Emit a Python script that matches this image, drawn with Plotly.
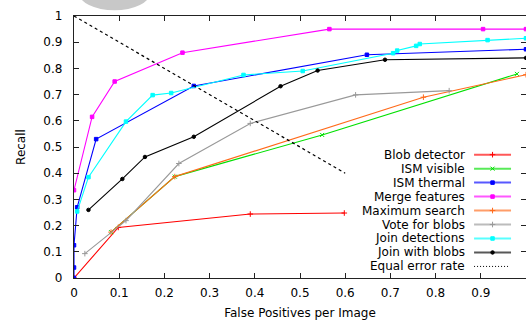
import plotly.graph_objects as go

# ---- data (False Positives per Image vs Recall) ----
blob_x = [0, 0.098, 0.39, 0.598]
blob_y = [0, 0.193, 0.244, 0.248]

vis_x = [0.082, 0.223, 0.549, 0.98]
vis_y = [0.175, 0.387, 0.546, 0.779]

therm_x = [0, 0, 0, 0.007, 0.049, 0.265, 0.648, 1.0]
therm_y = [0, 0.04, 0.125, 0.27, 0.53, 0.733, 0.852, 0.873]

merge_x = [0, 0.04, 0.09, 0.24, 0.565, 0.905, 1.0]
merge_y = [0.335, 0.615, 0.75, 0.86, 0.95, 0.95, 0.95]

maxs_x = [0.082, 0.223, 0.773, 1.0]
maxs_y = [0.175, 0.387, 0.69, 0.776]

vote_x = [0.024, 0.115, 0.232, 0.39, 0.623, 0.83]
vote_y = [0.093, 0.219, 0.437, 0.59, 0.699, 0.715]

jdet_x = [0.007, 0.032, 0.115, 0.174, 0.215, 0.375, 0.506, 0.706, 0.715, 0.757, 0.765, 0.915, 1.0]
jdet_y = [0.254, 0.385, 0.597, 0.698, 0.706, 0.775, 0.79, 0.858, 0.868, 0.886, 0.893, 0.908, 0.915]

jblob_x = [0.032, 0.107, 0.157, 0.265, 0.457, 0.539, 0.688, 1.0]
jblob_y = [0.26, 0.378, 0.462, 0.539, 0.732, 0.792, 0.833, 0.84]

eer_x = [0, 0.6]
eer_y = [1, 0.4]

names = ["Blob detector", "ISM visible", "ISM thermal", "Merge features",
         "Maximum search", "Vote for blobs", "Join detections", "Join with blobs",
         "Equal error rate"]
x_ticks = [0, 0.1, 0.2, 0.3, 0.4, 0.5, 0.6, 0.7, 0.8, 0.9, 1]
y_ticks = [0, 0.1, 0.2, 0.3, 0.4, 0.5, 0.6, 0.7, 0.8, 0.9, 1]

series = [
    (blob_x, blob_y, "#ff0000", "cross-thin", 4),
    (vis_x, vis_y, "#00e000", "x-thin", 4),
    (therm_x, therm_y, "#0000ff", "square", 3.5),
    (merge_x, merge_y, "#ff00ff", "square", 3.5),
    (maxs_x, maxs_y, "#ff6a1a", "cross-thin", 4),
    (vote_x, vote_y, "#999999", "cross-thin", 4),
    (jdet_x, jdet_y, "#00ffff", "square", 3.5),
    (jblob_x, jblob_y, "#000000", "circle", 3.5),
]

FONT = "DejaVu Sans"
L, R, T, B = 73.5, 0, 15.7, 41.7
W, H = 526, 320
PW = W - L - R
PH = H - T - B

fig = go.Figure()
for (xs, ys, col, sym, sz), nm in zip(series, names):
    fig.add_trace(go.Scatter(
        x=xs, y=ys, mode="lines+markers", name=nm,
        line=dict(color=col, width=1.1),
        marker=dict(symbol=sym, size=sz, color=col, line=dict(color=col, width=1)),
        showlegend=False, cliponaxis=True))
fig.add_trace(go.Scatter(x=eer_x, y=eer_y, mode="lines", name=names[-1],
                         line=dict(color="#000000", width=1.2, dash="dot"),
                         showlegend=False))

# ---- custom legend (text left, sample right), in paper coordinates ----
def px2paper_x(px):
    return (px - L) / PW

def py2paper_y(py):
    return (H - B - py) / PH

ly0, ldy = 154.7, 14.0
for i, nm in enumerate(names):
    py = ly0 + i * ldy
    fig.add_annotation(x=px2paper_x(467), y=py2paper_y(py), xref="paper", yref="paper",
                       text=nm, showarrow=False, xanchor="right", yanchor="middle",
                       font=dict(family=FONT, size=12, color="#000000"))
    if i < len(series):
        col, sym, sz = series[i][2], series[i][3], series[i][4]
        fig.add_trace(go.Scatter(
            x=[px2paper_x(474), px2paper_x(511)], y=[py2paper_y(py)] * 2,
            xaxis="x2", yaxis="y2", mode="lines", opacity=0.65,
            line=dict(color=col, width=2), showlegend=False, hoverinfo="skip"))
        fig.add_trace(go.Scatter(
            x=[px2paper_x(492.5)], y=[py2paper_y(py)],
            xaxis="x2", yaxis="y2", mode="markers",
            marker=dict(symbol=sym, size=sz, color=col, line=dict(color=col, width=1)),
            showlegend=False, hoverinfo="skip"))
    else:
        fig.add_trace(go.Scatter(
            x=[px2paper_x(474), px2paper_x(508)], y=[py2paper_y(py)] * 2,
            xaxis="x2", yaxis="y2", mode="lines",
            line=dict(color="#000000", width=1, dash="1px,2px"), showlegend=False, hoverinfo="skip"))

# grey blob at the top
fig.add_shape(type="circle", xref="paper", yref="paper",
              x0=px2paper_x(78), x1=px2paper_x(150), y0=py2paper_y(10), y1=py2paper_y(-26),
              fillcolor="#c8c8c8", line=dict(width=0), layer="above")

axis_common = dict(showline=True, linecolor="#222222", linewidth=1.3, mirror="allticks",
                   ticks="inside", ticklen=5, tickwidth=1, tickcolor="#222222",
                   showgrid=False, zeroline=False, automargin=False,
                   tickfont=dict(family=FONT, size=12, color="#000000"))

fig.update_layout(
    width=W, height=H,
    margin=dict(l=L, r=R, t=T, b=B, pad=0, autoexpand=False),
    paper_bgcolor="white", plot_bgcolor="white",
    font=dict(family=FONT, size=12, color="#000000"),
    xaxis=dict(range=[0, 1], tickvals=x_ticks, ticktext=[f"{v:g}" for v in x_ticks],
               title=dict(text="False Positives per Image", standoff=14,
                          font=dict(family=FONT, size=12)),
               ticklabelstandoff=3, **axis_common),
    yaxis=dict(range=[0, 1], tickvals=y_ticks, ticktext=[f"{v:g}" for v in y_ticks],
               title=dict(text="Recall", standoff=15, font=dict(family=FONT, size=12)),
               ticklabelstandoff=8, **axis_common),
    xaxis2=dict(overlaying="x", range=[0, 1], visible=False),
    yaxis2=dict(overlaying="y", range=[0, 1], visible=False),
)

fig.write_html("out.html", config={"displayModeBar": False},
               post_script="document.body.style.margin='0';document.body.style.overflow='hidden';")
